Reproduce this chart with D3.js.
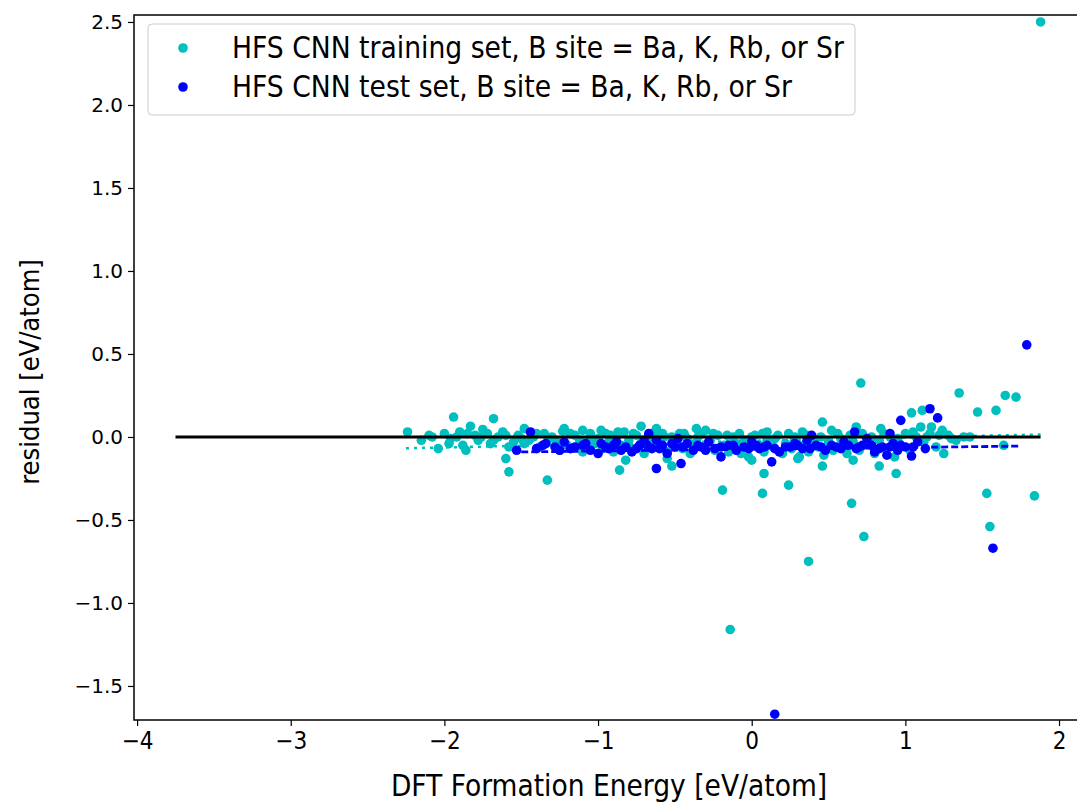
<!DOCTYPE html>
<html>
<head>
<meta charset="utf-8">
<script src="https://cdn.jsdelivr.net/npm/d3@7.9.0/dist/d3.min.js"></script>
<style>
  body { margin: 0; background: #fff; }
  svg { display: block; font-family: "DejaVu Sans", sans-serif; }
  .cond { font-family: "DejaVu Sans Condensed", "DejaVu Sans", sans-serif; font-stretch: condensed; }
</style>
</head>
<body>
<svg id="chart" width="1077" height="805"></svg>
<script>
// training set residuals [DFT energy, residual]
const trainData = [
  [1.88, 2.50], [0.71, 0.325], [1.35, 0.265], [1.65, 0.25], [1.72, 0.24], [1.47, 0.15], [1.59, 0.16],
  [1.53, -0.34], [1.84, -0.355], [1.25, -0.10], [1.64, -0.05], [-0.14, -1.16], [0.37, -0.75],
  [0.73, -0.60], [0.65, -0.40], [1.55, -0.54], [0.46, 0.09], [0.08, -0.22], [0.07, -0.34], [0.24, -0.29],
  [0.46, -0.175], [0.83, -0.175], [0.94, -0.22], [1.04, 0.145], [1.11, 0.16], [1.10, 0.06], [1.17, 0.06],
  [1.24, 0.04], [0.84, 0.05], [0.68, 0.06], [0.33, 0.03], [-0.72, 0.065], [-0.86, -0.20], [-0.52, -0.175],
  [-0.82, -0.14], [-0.19, -0.32], [-0.36, 0.05], [-1.22, 0.05], [0.0, -0.14], [-1.94, 0.12], [-1.68, 0.11],
  [-2.24, 0.03], [-2.08, 0.0], [-1.83, 0.065], [-1.75, 0.045], [-2.04, -0.07], [-1.86, -0.08],
  [-1.60, -0.13], [-1.58, -0.21], [-1.33, -0.26], [-1.48, 0.05], [-1.23, 0.035],
  [-2.15, -0.02], [-2.0, 0.02], [-1.97, -0.04], [-1.9, 0.03], [-1.88, -0.05], [-1.8, 0.01], [-1.78, -0.02],
  [-1.72, 0.02], [-1.7, -0.04], [-1.65, 0.0], [-1.62, 0.03], [-1.55, -0.03], [-1.52, 0.01], [-1.45, -0.02],
  [-1.42, 0.0], [-1.38, -0.06], [-1.3, 0.0], [-1.27, -0.03], [-1.2, -0.05], [-1.15, 0.01], [-1.12, -0.02],
  [-1.08, -0.06], [-1.05, 0.02], [-1.02, -0.04], [-1.0, -0.01], [-0.97, -0.07], [-0.95, 0.02], [-0.93, -0.03],
  [-0.9, -0.09], [-0.88, 0.0], [-0.85, -0.05], [-0.83, 0.03], [-0.8, -0.02], [-0.78, -0.07], [-0.75, 0.01],
  [-0.72, -0.04], [-0.7, -0.1], [-0.65, -0.02], [-0.63, 0.03], [-0.6, -0.06], [-0.57, 0.0], [-0.55, -0.09],
  [-0.5, -0.03], [-0.47, 0.02], [-0.45, -0.07], [-0.42, -0.01], [-0.4, -0.1], [-0.37, -0.04], [-0.33, 0.02],
  [-0.3, -0.06], [-0.27, -0.02], [-0.24, -0.08], [-0.22, 0.01], [-0.18, -0.05], [-0.15, -0.09], [-0.12, 0.0],
  [-0.1, -0.04], [-0.07, -0.1], [-0.05, -0.02], [-0.02, -0.07], [0.02, 0.01], [0.05, -0.05], [0.08, -0.09],
  [0.1, -0.02], [0.14, -0.06], [0.17, 0.01], [0.2, -0.1], [0.22, -0.04], [0.26, -0.07], [0.28, 0.0],
  [0.31, -0.12], [0.34, -0.05], [0.37, -0.09], [0.4, -0.02], [0.43, -0.06], [0.47, -0.11], [0.5, -0.03],
  [0.53, -0.08], [0.56, 0.02], [0.6, -0.06], [0.62, -0.1], [0.66, -0.03], [0.7, -0.08], [0.72, 0.02],
  [0.76, -0.05], [0.8, -0.1], [0.83, -0.02], [0.87, -0.07], [0.9, 0.0], [0.93, -0.12], [0.96, -0.04],
  [1.0, 0.02], [1.03, -0.08], [1.07, 0.0], [1.12, -0.03], [1.16, 0.02], [1.2, -0.06], [1.28, 0.01],
  [1.33, -0.02], [1.42, 0.0], [-1.96, -0.01], [-1.58, -0.06], [-1.35, 0.02], [-1.1, 0.04], [-0.98, 0.04],
  [-0.62, 0.05], [-0.3, 0.04], [0.1, 0.03], [0.52, 0.04], [-0.02, -0.12], [-0.55, -0.13], [0.3, -0.13],
  [0.66, -0.14], [-1.1, -0.09], [-1.25, -0.08], [-1.48, -0.04], [-1.68, -0.02],
  [-2.1, 0.01], [-1.92, 0.0], [-1.85, 0.02], [-1.76, 0.0], [-1.6, 0.01], [-1.5, -0.01], [-1.4, 0.02],
  [-1.32, -0.01], [-1.18, 0.02], [-1.06, -0.02], [-0.92, 0.01], [-0.87, 0.03], [-0.77, 0.02], [-0.67, 0.01],
  [-0.58, 0.02], [-0.52, 0.0], [-0.44, 0.02], [-0.35, 0.0], [-0.25, 0.02], [-0.16, 0.01], [-0.08, 0.02],
  [0.0, 0.0], [0.07, 0.02], [0.15, -0.01], [0.24, 0.02], [0.36, 0.01], [0.45, 0.0], [0.58, -0.01],
  [0.64, 0.01], [0.78, 0.0], [0.86, 0.02], [0.95, -0.01], [1.05, 0.03], [1.14, 0.0], [1.22, 0.01],
  [1.3, -0.01], [1.38, 0.0]
];

// test set residuals
const testData = [
  [1.79, 0.555], [1.57, -0.67], [0.15, -1.67], [0.13, -0.15], [1.04, -0.115], [0.97, 0.10], [1.16, 0.17],
  [1.21, 0.115], [0.67, 0.03], [0.39, 0.01], [-0.67, 0.02], [-0.62, -0.19], [-0.46, -0.16], [-0.20, -0.12],
  [-0.48, -0.01], [-1.44, 0.03], [-1.53, -0.08], [-1.34, -0.04],
  [-1.28, -0.06], [-1.22, -0.03], [-1.18, -0.07], [-1.1, -0.05], [-1.05, -0.08], [-0.98, -0.04],
  [-0.93, -0.07], [-0.88, -0.03], [-0.82, -0.06], [-0.78, -0.09], [-0.73, -0.05], [-0.7, -0.02],
  [-0.65, -0.07], [-0.58, -0.05], [-0.55, -0.1], [-0.5, -0.06], [-0.42, -0.04], [-0.38, -0.08],
  [-0.33, -0.06], [-0.28, -0.03], [-0.24, -0.07], [-0.15, -0.05], [-0.1, -0.08], [-0.05, -0.06],
  [0.0, -0.03], [0.05, -0.07], [0.1, -0.05], [0.18, -0.09], [0.22, -0.06], [0.28, -0.04], [0.33, -0.07],
  [0.42, -0.05], [0.48, -0.08], [0.55, -0.06], [0.6, -0.03], [0.68, -0.07], [0.72, -0.05], [0.8, -0.09],
  [0.85, -0.06], [0.88, -0.11], [0.92, -0.04], [0.95, -0.08], [1.0, -0.06], [1.08, -0.03], [1.13, -0.07],
  [-1.0, -0.1], [-0.62, -0.02], [0.36, -0.02], [0.75, -0.01], [0.9, 0.02],
  [-1.4, -0.07], [-1.36, -0.05], [-1.25, -0.08], [-1.15, -0.06], [-1.08, -0.04], [-0.95, -0.06],
  [-0.9, -0.05], [-0.85, -0.08], [-0.75, -0.07], [-0.68, -0.05], [-0.6, -0.07], [-0.52, -0.04],
  [-0.45, -0.06], [-0.35, -0.05], [-0.3, -0.08], [-0.2, -0.06], [-0.12, -0.05], [-0.02, -0.07],
  [0.03, -0.05], [0.08, -0.06], [0.15, -0.07], [0.25, -0.06], [0.3, -0.05], [0.38, -0.07], [0.45, -0.06],
  [0.52, -0.05], [0.58, -0.07], [0.63, -0.05], [0.7, -0.06], [0.78, -0.05], [0.83, -0.07], [0.9, -0.06],
  [0.97, -0.05], [1.05, -0.06]
];

// reference / trend lines
const zeroLine = [[-3.75, 0.0], [1.88, 0.0]];
const trainTrend = [[-2.25, -0.068], [1.88, 0.015]];
const testTrend = [[-1.5, -0.09], [1.75, -0.055]];

const xTicks = [-4, -3, -2, -1, 0, 1, 2];
const yTicks = [-1.5, -1.0, -0.5, 0.0, 0.5, 1.0, 1.5, 2.0, 2.5];

const legendLabels = [
  'HFS CNN training set, B site = Ba, K, Rb, or Sr',
  'HFS CNN test set, B site = Ba, K, Rb, or Sr'
];

const cyan = '#00bfbf';
const blue = '#0000ff';

const svg = d3.select('#chart');
const plotLeft = 134, plotRight = 1079, plotTop = 15, plotBottom = 720;

const x = d3.scaleLinear().domain([-4.02, 2.13]).range([plotLeft, plotRight]);
const y = d3.scaleLinear().domain([-1.705, 2.542]).range([plotBottom, plotTop]);

const line = d3.line().x(d => x(d[0])).y(d => y(d[1]));

// points
svg.append('g').selectAll('circle')
  .data(trainData)
  .join('circle')
  .attr('cx', d => x(d[0]))
  .attr('cy', d => y(d[1]))
  .attr('r', 4.8)
  .attr('fill', cyan);

svg.append('path')
  .attr('d', line(trainTrend))
  .attr('fill', 'none')
  .attr('stroke', cyan)
  .attr('stroke-width', 2.5)
  .attr('stroke-dasharray', '3,5');

svg.append('g').selectAll('circle')
  .data(testData)
  .join('circle')
  .attr('cx', d => x(d[0]))
  .attr('cy', d => y(d[1]))
  .attr('r', 4.8)
  .attr('fill', blue);

svg.append('path')
  .attr('d', line(testTrend))
  .attr('fill', 'none')
  .attr('stroke', blue)
  .attr('stroke-width', 2.8)
  .attr('stroke-dasharray', '7,3');

svg.append('path')
  .attr('d', line(zeroLine))
  .attr('fill', 'none')
  .attr('stroke', '#000')
  .attr('stroke-width', 3);

// axes
const xAxis = svg.append('g')
  .attr('transform', `translate(0,${plotBottom})`)
  .call(d3.axisBottom(x).tickValues(xTicks).tickFormat(d3.format('d')).tickSizeOuter(0).tickSize(6).tickPadding(6));
const yAxis = svg.append('g')
  .attr('transform', `translate(${plotLeft},0)`)
  .call(d3.axisLeft(y).tickValues(yTicks).tickFormat(d3.format('.1f')).tickSizeOuter(0).tickSize(6).tickPadding(5));

[xAxis, yAxis].forEach(g => {
  g.select('.domain').remove();
  g.selectAll('line').attr('stroke', '#000').attr('stroke-width', 1.2);
});
yAxis.selectAll('text').attr('font-size', 20).attr('fill', '#000').attr('font-family', '"DejaVu Sans", sans-serif');
xAxis.selectAll('text').attr('class', 'cond').attr('font-size', 24).attr('fill', '#000').attr('font-family', null);

// frame
svg.append('rect')
  .attr('x', plotLeft).attr('y', plotTop)
  .attr('width', plotRight - plotLeft).attr('height', plotBottom - plotTop)
  .attr('fill', 'none')
  .attr('stroke', '#000')
  .attr('stroke-width', 1.5);

// axis titles
svg.append('text')
  .attr('class', 'cond')
  .attr('x', 609)
  .attr('y', 796)
  .attr('text-anchor', 'middle')
  .attr('font-size', 29.5)
  .text('DFT Formation Energy [eV/atom]');

svg.append('text')
  .attr('class', 'cond')
  .attr('transform', `translate(39,372) rotate(-90)`)
  .attr('text-anchor', 'middle')
  .attr('font-size', 27)
  .text('residual [eV/atom]');

// legend
const legend = svg.append('g');
legend.append('rect')
  .attr('x', 148).attr('y', 24)
  .attr('width', 707).attr('height', 91)
  .attr('rx', 4)
  .attr('fill', '#fff').attr('fill-opacity', 0.8)
  .attr('stroke', '#ccc');

legendLabels.forEach((label, i) => {
  const cy = 48 + i * 39;
  legend.append('circle')
    .attr('cx', 183).attr('cy', cy).attr('r', 4.8)
    .attr('fill', i === 0 ? cyan : blue);
  legend.append('text')
    .attr('class', 'cond')
    .attr('x', 232).attr('y', cy + 10)
    .attr('font-size', 29.6)
    .text(label);
});
</script>
</body>
</html>
